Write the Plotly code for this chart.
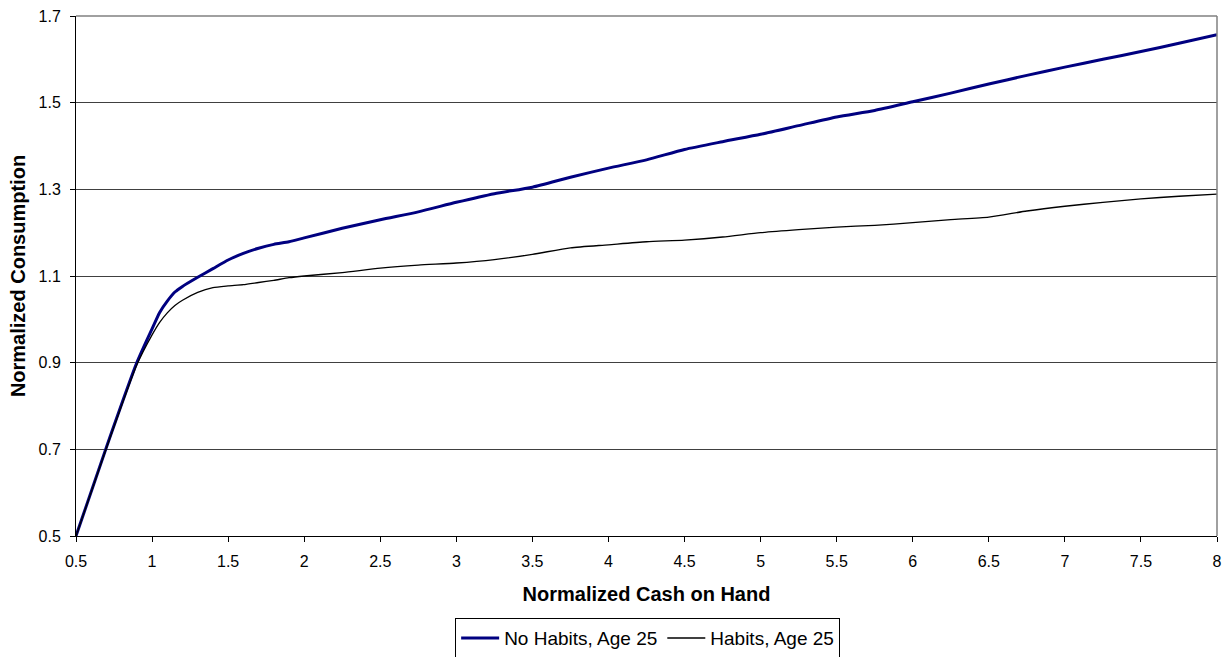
import plotly.graph_objects as go

cash = [0.5, 0.7, 0.9, 1.0, 1.05, 1.1, 1.15, 1.2, 1.3, 1.4, 1.5, 1.6, 1.7, 1.8, 1.9, 2.0,
        2.25, 2.5, 2.75, 3.0, 3.25, 3.5, 3.75, 4.0, 4.25, 4.5, 4.75, 5.0, 5.25, 5.5, 5.75,
        6.0, 6.25, 6.5, 6.75, 7.0, 7.25, 7.5, 7.75, 8.0]
no_habits = [0.50, 0.705, 0.90, 0.978, 1.016, 1.042, 1.063, 1.076, 1.097, 1.117, 1.137, 1.152,
             1.164, 1.173, 1.179, 1.188, 1.210, 1.230, 1.248, 1.270, 1.290, 1.305, 1.328, 1.349,
             1.368, 1.392, 1.410, 1.427, 1.447, 1.467, 1.482, 1.502, 1.522, 1.543, 1.563, 1.582,
             1.600, 1.618, 1.637, 1.657]
habits = [0.50, 0.703, 0.895, 0.964, 0.993, 1.015, 1.032, 1.044, 1.062, 1.073, 1.077, 1.080,
          1.085, 1.090, 1.096, 1.100, 1.108, 1.118, 1.125, 1.130, 1.138, 1.150, 1.165, 1.172,
          1.179, 1.183, 1.190, 1.200, 1.207, 1.213, 1.217, 1.223, 1.230, 1.236, 1.250, 1.261,
          1.270, 1.278, 1.284, 1.289]

x_ticks = [0.5, 1, 1.5, 2, 2.5, 3, 3.5, 4, 4.5, 5, 5.5, 6, 6.5, 7, 7.5, 8]
x_tick_text = ["0.5", "1", "1.5", "2", "2.5", "3", "3.5", "4", "4.5", "5", "5.5", "6", "6.5", "7", "7.5", "8"]
y_ticks = [0.5, 0.7, 0.9, 1.1, 1.3, 1.5, 1.7]
y_tick_text = ["0.5", "0.7", "0.9", "1.1", "1.3", "1.5", "1.7"]

font = "Liberation Sans, Arial, sans-serif"

fig = go.Figure()
fig.add_trace(go.Scatter(x=cash, y=no_habits, mode="lines", name="No Habits, Age 25",
                         line=dict(color="#000080", width=3, shape="spline", smoothing=0.6)))
fig.add_trace(go.Scatter(x=cash, y=habits, mode="lines", name="Habits, Age 25",
                         line=dict(color="#000000", width=1.3, shape="spline", smoothing=0.6)))

fig.update_layout(
    width=1226, height=657,
    margin=dict(l=76, r=9, t=16, b=121, autoexpand=False),
    paper_bgcolor="white", plot_bgcolor="white",
    font=dict(family=font, size=16, color="black"),
    showlegend=True,
    legend=dict(orientation="h", x=0.501, xanchor="center", y=-0.158, yanchor="top",
                bordercolor="black", borderwidth=1, font=dict(size=19, family=font),
                itemwidth=38, tracegroupgap=0),
    shapes=[
        dict(type="line", xref="paper", yref="paper", x0=0, x1=1, y0=1, y1=1,
             line=dict(color="#808080", width=1.5)),
        dict(type="line", xref="paper", yref="paper", x0=1, x1=1, y0=0, y1=1,
             line=dict(color="#808080", width=1.5)),
    ],
)
fig.update_xaxes(range=[0.5, 8], tickvals=x_ticks, ticktext=x_tick_text,
                 showgrid=False, zeroline=False, showline=True, linecolor="black", linewidth=1,
                 ticks="outside", ticklen=5, tickcolor="black", ticklabelstandoff=6,
                 title=dict(text="<b>Normalized Cash on Hand</b>", font=dict(size=20), standoff=17),
                 tickfont=dict(size=16))
fig.update_yaxes(range=[0.5, 1.7], tickvals=y_ticks, ticktext=y_tick_text,
                 showgrid=True, gridcolor="#404040", gridwidth=1,
                 zeroline=False, showline=True, linecolor="black", linewidth=1,
                 ticks="outside", ticklen=5, tickcolor="black", ticklabelstandoff=6,
                 title=dict(text="<b>Normalized Consumption</b>", font=dict(size=20), standoff=7),
                 tickfont=dict(size=16))

fig.write_html("out.html", config={"displayModeBar": False},
               post_script="document.body.style.margin='0';")
